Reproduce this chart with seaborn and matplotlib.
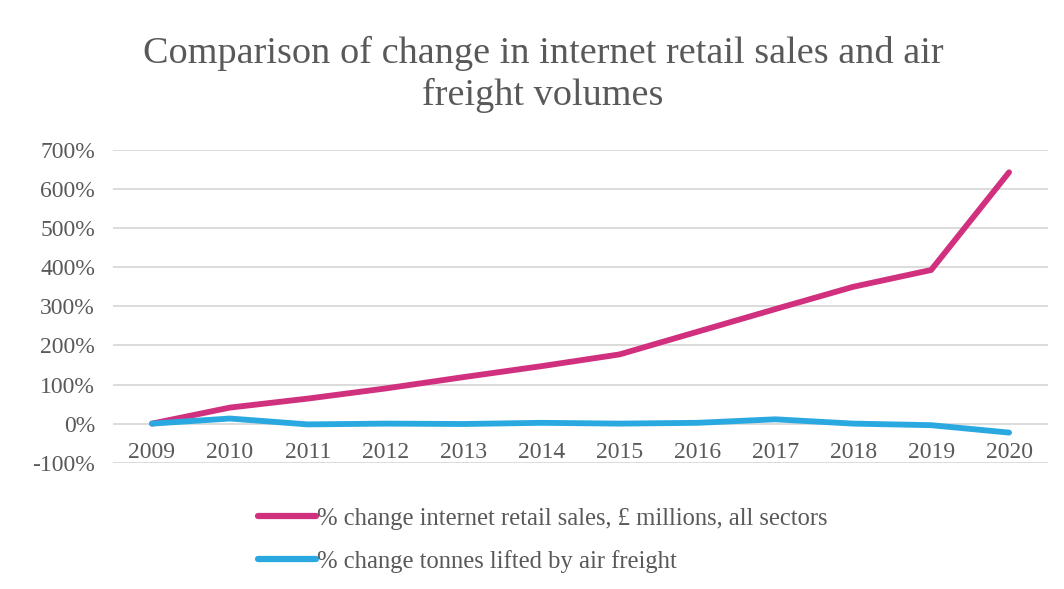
import matplotlib
matplotlib.use("Agg")
import matplotlib.pyplot as plt
import seaborn as sns
import pandas as pd
from matplotlib.lines import Line2D

years = [2009, 2010, 2011, 2012, 2013, 2014, 2015, 2016, 2017, 2018, 2019, 2020]
retail_change = [0, 41, 64, 90, 119, 147, 177, 235, 293, 350, 393, 643]
air_change = [0, 13, -2, 0, -1, 2, 0, 2, 11, 0, -4, -23]
series_names = ["% change internet retail sales, £ millions, all sectors",
                "% change tonnes lifted by air freight"]
y_ticks = [-100, 0, 100, 200, 300, 400, 500, 600, 700]
title = "Comparison of change in internet retail sales and air\nfreight volumes"

sns.set_theme(style="white")
plt.rcParams['font.family'] = ['Liberation Serif', 'DejaVu Serif']

df = pd.DataFrame({
    "year": years * 2,
    "value": retail_change + air_change,
    "series": [series_names[0]] * len(years) + [series_names[1]] * len(years),
})

fig = plt.figure(figsize=(10.64, 5.89), dpi=100)
ax = fig.add_axes([113/1064, 1 - 462.7/589, (1048-113)/1064, (462.7-150)/589])

palette = {series_names[0]: "#D1307E", series_names[1]: "#2AA9E0"}
sns.lineplot(data=df, x="year", y="value", hue="series", palette=palette,
             linewidth=4.2, ax=ax, legend=False, solid_capstyle="round")

text_color = "#595959"
ax.set_ylim(-100, 700)
ax.set_xlim(2008.5, 2020.5)
ax.set_yticks(y_ticks)
ax.set_yticklabels([f"{v}%" for v in y_ticks])
ax.set_xticks(years)
ax.set_xticklabels([str(y) for y in years])
ax.yaxis.grid(True, color="#D9D9D9", linewidth=1.3)
ax.set_axisbelow(True)
for s in ["top", "right", "left"]:
    ax.spines[s].set_visible(False)
ax.spines["bottom"].set_position(("data", 0))
ax.spines["bottom"].set_visible(False)
ax.tick_params(axis="x", length=0, pad=13, labelsize=17, labelcolor=text_color)
ax.tick_params(axis="y", length=0, pad=13, labelsize=17, labelcolor=text_color)
ax.set_xlabel("")
ax.set_ylabel("")

fig.text(543/1064, 1 - 74/589, title, ha="center", va="center",
         fontsize=27.5, color=text_color, linespacing=1.25)

handles = [Line2D([0], [0], color=palette[n], linewidth=4.5, solid_capstyle="round")
           for n in series_names]
leg = fig.legend(handles, series_names, loc="upper left",
                 bbox_to_anchor=(248/1064, 1 - 498/589), frameon=False,
                 fontsize=17.7, handlelength=2.35, handletextpad=0.05,
                 labelspacing=0.8, labelcolor=text_color, borderaxespad=0)

fig.savefig("out.png", dpi=100, facecolor="white")
